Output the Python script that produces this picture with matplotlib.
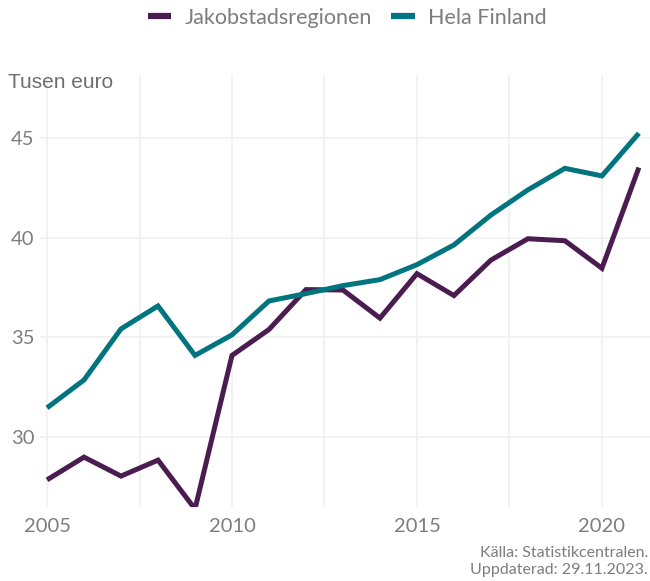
import numpy as np
import matplotlib.pyplot as plt

years = list(range(2005, 2022))
jakobstad = [27.86, 29.0, 28.05, 28.85, 26.4, 34.1, 35.4, 37.4, 37.38, 35.97,
             38.2, 37.1, 38.88, 39.95, 39.85, 38.47, 43.52]
finland = [31.47, 32.87, 35.43, 36.58, 34.1, 35.13, 36.83, 37.2, 37.6, 37.9,
           38.65, 39.64, 41.14, 42.4, 43.48, 43.1, 45.24]
series_names = ['Jakobstadsregionen', 'Hela Finland']
colors = ['#4B1C50', '#00747F']

thin = ['Lato', 'DejaVu Sans']
grey = '#7d7d7d'

fig = plt.figure(figsize=(6.5, 5.81), dpi=100)
ax = fig.add_axes([40/650, 1 - 507/581, 610/650, (507 - 75)/581])

for vals, name, c in zip([jakobstad, finland], series_names, colors):
    ax.plot(years, vals, color=c, lw=3.6, label=name, solid_joinstyle='miter',
            solid_capstyle='butt', zorder=3)

ax.set_xlim(2004.81, 2021.3)
ax.set_ylim(26.5, 48.16)
ax.set_xticks([2005, 2010, 2015, 2020])
ax.set_xticks([2007.5, 2012.5, 2017.5], minor=True)
ax.set_yticks([30, 35, 40, 45])
ax.grid(True, which='both', axis='x', color='#f0f0f0', lw=1.2)
ax.grid(True, which='major', axis='y', color='#f0f0f0', lw=1.2)
ax.set_axisbelow(True)
for s in ax.spines.values():
    s.set_visible(False)
ax.tick_params(which='both', length=0, colors=grey, labelsize=14.5)
ax.tick_params(axis='y', pad=4)
ax.tick_params(axis='x', pad=8)
for lab in ax.get_xticklabels() + ax.get_yticklabels():
    lab.set_family(thin)

fig.text(8/650, 1 - 82/581, 'Tusen euro', family='Liberation Sans', fontsize=15,
         color='#6e6e6e', ha='left', va='center')

leg = fig.legend(loc='center', bbox_to_anchor=(347/650, 1 - 18/581), ncol=2,
                 frameon=False, handlelength=1.1, handletextpad=0.6,
                 columnspacing=0.9, prop={'family': thin, 'size': 15.5})
for t in leg.get_texts():
    t.set_color(grey)
for h in leg.get_lines():
    h.set_linewidth(4.5)

fig.text(648/650, 1 - 553/581, 'Källa: Statistikcentralen.', family=thin,
         fontsize=11.5, color=grey, ha='right', va='center')
fig.text(648/650, 1 - 570/581, 'Uppdaterad: 29.11.2023.', family=thin,
         fontsize=11.5, color=grey, ha='right', va='center')

fig.savefig('out.png', dpi=100)
